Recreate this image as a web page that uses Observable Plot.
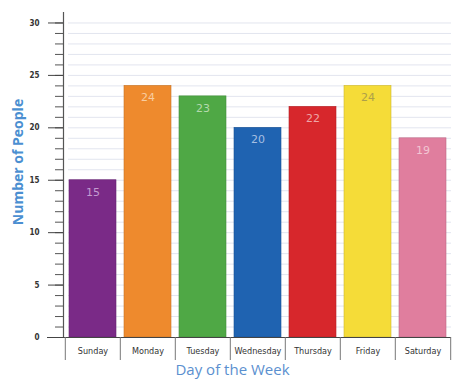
<!DOCTYPE html>
<html>
<head>
<meta charset="utf-8">
<script src="https://cdn.jsdelivr.net/npm/d3@7"></script>
<script src="https://cdn.jsdelivr.net/npm/@observablehq/plot@0.6"></script>
<style>
  html, body { margin: 0; padding: 0; background: #fff; }
  #chart svg { display: block; }
</style>
</head>
<body>
<div id="chart"></div>
<script>
const days = ["Sunday", "Monday", "Tuesday", "Wednesday", "Thursday", "Friday", "Saturday"];
const people = [15, 24, 23, 20, 22, 24, 19];
const barColors = ["#7a2a87", "#ee8a2d", "#4fa845", "#1f63b1", "#d7272c", "#f5dc38", "#e07e9e"];
const labelColors = ["#c39bd0", "#f8cda0", "#b4d9ad", "#a5bfe2", "#eea6a8", "#aea049", "#f2c6d3"];
const majorTicks = [0, 5, 10, 15, 20, 25, 30];
const minorTicks = d3.range(0, 31);
const gridValues = d3.range(1, 31);
const yTitle = "Number of People";
const xTitle = "Day of the Week";

const data = days.map((d, i) => ({ day: d, value: people[i], color: barColors[i], label: labelColors[i] }));

const chart = Plot.plot({
  width: 453,
  height: 385,
  marginLeft: 63,
  marginRight: 2,
  marginTop: 12,
  marginBottom: 48,
  style: { fontFamily: "'Liberation Sans Narrow', 'DejaVu Sans Condensed', sans-serif", background: "#fff" },
  x: { domain: days, paddingInner: 0.15, paddingOuter: 0.075, axis: null },
  y: { domain: [0, 31], axis: null },
  marks: [
    Plot.ruleY(gridValues, { stroke: "#e2e5ef", strokeWidth: 1, insetLeft: 5 }),
    Plot.barY(data, { x: "day", y: "value", fill: "color", stroke: d => d3.color(d.color).darker(0.5).formatHex(), strokeWidth: 0.6 }),
    Plot.text(data, { x: "day", y: "value", text: d => String(d.value), fill: "label", dy: 12, fontSize: 11, fontFamily: "DejaVu Sans, sans-serif" }),
    Plot.axisY({ ticks: minorTicks, tickSize: 8, tickFormat: () => "", stroke: "#555", label: null }),
    Plot.axisY({ ticks: majorTicks, tickSize: 15, tickPadding: 9, fontSize: 8, fill: "#333", fontWeight: "bold", stroke: "#444", label: null }),
    Plot.frame({ anchor: "left", stroke: "#555", strokeWidth: 1.2 }),
    Plot.ruleY([0], { stroke: "#444", strokeWidth: 1.2, insetLeft: -16 }),
    Plot.axisX({ tickSize: 0, tickPadding: 10, fontSize: 9, fill: "#333", label: null }),
    Plot.axisX({ tickSize: 23, tickFormat: () => "", dx: -27.7, stroke: "#777", label: null }),
    Plot.axisX({ ticks: ["Saturday"], tickSize: 23, tickFormat: () => "", dx: 27.7, stroke: "#777", label: null }),
    Plot.text([yTitle], { frameAnchor: "left", textAnchor: "middle", rotate: -90, dx: -45, dy: -13, fill: "#4b8fd1", fontSize: 14, fontWeight: "bold", fontFamily: "'Open Sans', sans-serif" }),
    Plot.text([xTitle], { frameAnchor: "bottom", textAnchor: "middle", dx: -25, dy: 37, fill: "#5b90cf", fontSize: 15, fontFamily: "'Open Sans', sans-serif" })
  ]
});
document.getElementById("chart").appendChild(chart);
</script>
</body>
</html>
